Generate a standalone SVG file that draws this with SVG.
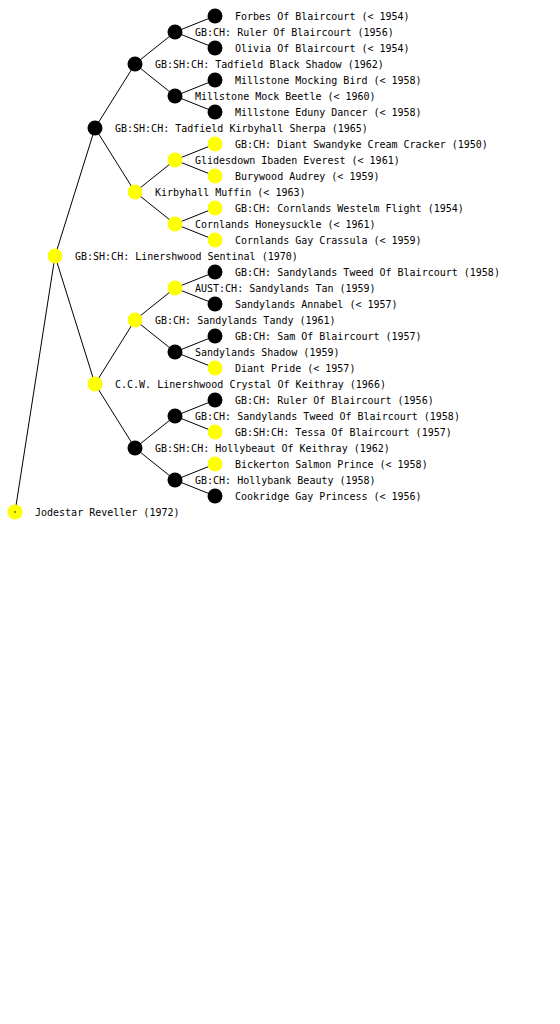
<svg xmlns="http://www.w3.org/2000/svg" width="560" height="1024" viewBox="0 0 560 1024">
<style>
text{font-family:"DejaVu Sans Mono","Liberation Mono",monospace;font-size:10px;fill:#000}
.y{fill:#ffff00}
.b{fill:#000}
#edges line{stroke:#000;stroke-width:1}
</style>
<rect width="560" height="1024" fill="#fff"/>
<g id="edges">
<line x1="15" y1="512" x2="55" y2="256"/>
<line x1="55" y1="256" x2="95" y2="128"/>
<line x1="55" y1="256" x2="95" y2="384"/>
<line x1="95" y1="128" x2="135" y2="64"/>
<line x1="95" y1="128" x2="135" y2="192"/>
<line x1="95" y1="384" x2="135" y2="320"/>
<line x1="95" y1="384" x2="135" y2="448"/>
<line x1="135" y1="64" x2="175" y2="32"/>
<line x1="135" y1="64" x2="175" y2="96"/>
<line x1="135" y1="192" x2="175" y2="160"/>
<line x1="135" y1="192" x2="175" y2="224"/>
<line x1="135" y1="320" x2="175" y2="288"/>
<line x1="135" y1="320" x2="175" y2="352"/>
<line x1="135" y1="448" x2="175" y2="416"/>
<line x1="135" y1="448" x2="175" y2="480"/>
<line x1="175" y1="32" x2="215" y2="16"/>
<line x1="175" y1="32" x2="215" y2="48"/>
<line x1="175" y1="96" x2="215" y2="80"/>
<line x1="175" y1="96" x2="215" y2="112"/>
<line x1="175" y1="160" x2="215" y2="144"/>
<line x1="175" y1="160" x2="215" y2="176"/>
<line x1="175" y1="224" x2="215" y2="208"/>
<line x1="175" y1="224" x2="215" y2="240"/>
<line x1="175" y1="288" x2="215" y2="272"/>
<line x1="175" y1="288" x2="215" y2="304"/>
<line x1="175" y1="352" x2="215" y2="336"/>
<line x1="175" y1="352" x2="215" y2="368"/>
<line x1="175" y1="416" x2="215" y2="400"/>
<line x1="175" y1="416" x2="215" y2="432"/>
<line x1="175" y1="480" x2="215" y2="464"/>
<line x1="175" y1="480" x2="215" y2="496"/>
</g>
<g id="n0"><circle class="y" cx="15" cy="512" r="7.5"/><circle cx="15" cy="512" r="0.8" fill="#000"/><text x="35" y="516">Jodestar Reveller (1972)</text></g>
<g id="n1"><circle class="y" cx="55" cy="256" r="7.5"/><text x="75" y="260">GB:SH:CH: Linershwood Sentinal (1970)</text></g>
<g id="n2"><circle class="b" cx="95" cy="128" r="7.5"/><text x="115" y="132">GB:SH:CH: Tadfield Kirbyhall Sherpa (1965)</text></g>
<g id="n3"><circle class="y" cx="95" cy="384" r="7.5"/><text x="115" y="388">C.C.W. Linershwood Crystal Of Keithray (1966)</text></g>
<g id="n4"><circle class="b" cx="135" cy="64" r="7.5"/><text x="155" y="68">GB:SH:CH: Tadfield Black Shadow (1962)</text></g>
<g id="n5"><circle class="y" cx="135" cy="192" r="7.5"/><text x="155" y="196">Kirbyhall Muffin (&lt; 1963)</text></g>
<g id="n6"><circle class="y" cx="135" cy="320" r="7.5"/><text x="155" y="324">GB:CH: Sandylands Tandy (1961)</text></g>
<g id="n7"><circle class="b" cx="135" cy="448" r="7.5"/><text x="155" y="452">GB:SH:CH: Hollybeaut Of Keithray (1962)</text></g>
<g id="n8"><circle class="b" cx="175" cy="32" r="7.5"/><text x="195" y="36">GB:CH: Ruler Of Blaircourt (1956)</text></g>
<g id="n9"><circle class="b" cx="175" cy="96" r="7.5"/><text x="195" y="100">Millstone Mock Beetle (&lt; 1960)</text></g>
<g id="n10"><circle class="y" cx="175" cy="160" r="7.5"/><text x="195" y="164">Glidesdown Ibaden Everest (&lt; 1961)</text></g>
<g id="n11"><circle class="y" cx="175" cy="224" r="7.5"/><text x="195" y="228">Cornlands Honeysuckle (&lt; 1961)</text></g>
<g id="n12"><circle class="y" cx="175" cy="288" r="7.5"/><text x="195" y="292">AUST:CH: Sandylands Tan (1959)</text></g>
<g id="n13"><circle class="b" cx="175" cy="352" r="7.5"/><text x="195" y="356">Sandylands Shadow (1959)</text></g>
<g id="n14"><circle class="b" cx="175" cy="416" r="7.5"/><text x="195" y="420">GB:CH: Sandylands Tweed Of Blaircourt (1958)</text></g>
<g id="n15"><circle class="b" cx="175" cy="480" r="7.5"/><text x="195" y="484">GB:CH: Hollybank Beauty (1958)</text></g>
<g id="n16"><circle class="b" cx="215" cy="16" r="7.5"/><text x="235" y="20">Forbes Of Blaircourt (&lt; 1954)</text></g>
<g id="n17"><circle class="b" cx="215" cy="48" r="7.5"/><text x="235" y="52">Olivia Of Blaircourt (&lt; 1954)</text></g>
<g id="n18"><circle class="b" cx="215" cy="80" r="7.5"/><text x="235" y="84">Millstone Mocking Bird (&lt; 1958)</text></g>
<g id="n19"><circle class="b" cx="215" cy="112" r="7.5"/><text x="235" y="116">Millstone Eduny Dancer (&lt; 1958)</text></g>
<g id="n20"><circle class="y" cx="215" cy="144" r="7.5"/><text x="235" y="148">GB:CH: Diant Swandyke Cream Cracker (1950)</text></g>
<g id="n21"><circle class="y" cx="215" cy="176" r="7.5"/><text x="235" y="180">Burywood Audrey (&lt; 1959)</text></g>
<g id="n22"><circle class="y" cx="215" cy="208" r="7.5"/><text x="235" y="212">GB:CH: Cornlands Westelm Flight (1954)</text></g>
<g id="n23"><circle class="y" cx="215" cy="240" r="7.5"/><text x="235" y="244">Cornlands Gay Crassula (&lt; 1959)</text></g>
<g id="n24"><circle class="b" cx="215" cy="272" r="7.5"/><text x="235" y="276">GB:CH: Sandylands Tweed Of Blaircourt (1958)</text></g>
<g id="n25"><circle class="b" cx="215" cy="304" r="7.5"/><text x="235" y="308">Sandylands Annabel (&lt; 1957)</text></g>
<g id="n26"><circle class="b" cx="215" cy="336" r="7.5"/><text x="235" y="340">GB:CH: Sam Of Blaircourt (1957)</text></g>
<g id="n27"><circle class="y" cx="215" cy="368" r="7.5"/><text x="235" y="372">Diant Pride (&lt; 1957)</text></g>
<g id="n28"><circle class="b" cx="215" cy="400" r="7.5"/><text x="235" y="404">GB:CH: Ruler Of Blaircourt (1956)</text></g>
<g id="n29"><circle class="y" cx="215" cy="432" r="7.5"/><text x="235" y="436">GB:SH:CH: Tessa Of Blaircourt (1957)</text></g>
<g id="n30"><circle class="y" cx="215" cy="464" r="7.5"/><text x="235" y="468">Bickerton Salmon Prince (&lt; 1958)</text></g>
<g id="n31"><circle class="b" cx="215" cy="496" r="7.5"/><text x="235" y="500">Cookridge Gay Princess (&lt; 1956)</text></g>
</svg>
